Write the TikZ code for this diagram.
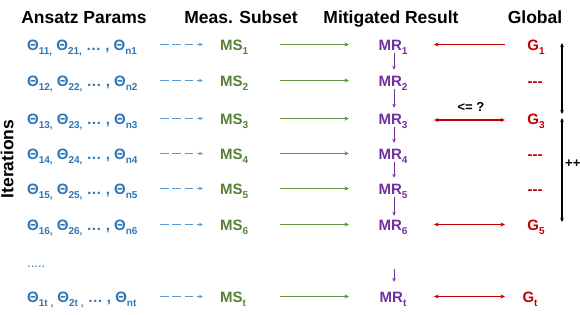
\documentclass[tikz,border=0pt]{standalone}
\usepackage{fontspec}
\setmainfont{Liberation Sans}
\usetikzlibrary{arrows.meta}
\definecolor{cblue}{HTML}{2E75B6}
\definecolor{cbluearr}{HTML}{5B9BD5}
\definecolor{cgreen}{HTML}{548235}
\definecolor{cgreenarr}{HTML}{5E9140}
\definecolor{cpurple}{HTML}{7030A0}
\definecolor{cred}{HTML}{C00000}
\newcommand\sbs[1]{\raisebox{-0.28em}{\fontsize{10}{12}\selectfont #1}}
\begin{document}
\begin{tikzpicture}[x=1pt,y=-1pt,
  hdr/.style={font=\fontsize{17.5}{20}\selectfont\bfseries, anchor=base, inner sep=0},
  rowtxt/.style={font=\fontsize{15}{18}\selectfont\bfseries, inner sep=0, text height=11pt, text depth=0pt},
  theta/.style={rowtxt, text=cblue, anchor=west},
  msn/.style={rowtxt, text=cgreen, anchor=west},
  mrn/.style={rowtxt, text=cpurple, anchor=center},
  gln/.style={rowtxt, text=cred, anchor=center},
  bluearr/.style={draw=cbluearr, line width=1.1pt, dash pattern=on 8.5pt off 3.8pt, -{Stealth[length=4pt,width=3.5pt]}},
  greenarr/.style={draw=cgreenarr, line width=1.1pt, -{Stealth[length=4.5pt,width=4pt]}},
  redarr/.style={draw=cred, line width=1.1pt, {Stealth[length=4.5pt,width=4pt]}-{Stealth[length=4.5pt,width=4pt]}},
  redarrl/.style={draw=cred, line width=1.1pt, {Stealth[length=4.5pt,width=4pt]}-},
  purarr/.style={draw=cpurple, line width=0.9pt, -{Stealth[length=4pt,width=3.5pt]}},
  blkarr/.style={draw=black, line width=1.1pt, {Stealth[length=4pt,width=3.5pt]}-{Stealth[length=4pt,width=3.5pt]}}
]
\useasboundingbox (0,0) rectangle (580,314);
% headers
\node[hdr] (h1) at (84,23) {Ansatz Params};
\node[hdr] (h2) at (241,23) {Meas. Subset};
\node[hdr] (h3) at (391,23) {Mitigated Result};
\node[hdr] (h4) at (535,23) {Global};
\node[font=\fontsize{17.5}{20}\selectfont\bfseries, rotate=90, inner sep=0] (it) at (7,159) {Iterations};
% column coordinates
\coordinate (bA) at (160,0); \coordinate (bB) at (203,0);
\coordinate (gA) at (280,0); \coordinate (gB) at (349,0);
\coordinate (rA) at (434,0); \coordinate (rB) at (505,0);
% rows
\foreach \i/\y in {1/44.5,2/80.5,3/118.5,4/153.5,5/188.5,6/224.5}{
  \node[theta] (th\i) at (27,\y) {Θ\sbs{1\i,} Θ\sbs{2\i,} … , Θ\sbs{n\i}};
  \node[msn] (ms\i) at (220,\y) {MS\sbs{\i}};
  \node[mrn] (mr\i) at (393,\y) {MR\sbs{\i}};
  \draw[bluearr] (bA |- th\i) -- (bB |- ms\i);
  \draw[greenarr] (gA |- ms\i) -- (gB |- mr\i);
}
\node[theta] (tht) at (27,296.5) {Θ\sbs{1t ,} Θ\sbs{2t ,} … , Θ\sbs{nt}};
\node[msn] (mst) at (220,296.5) {MS\sbs{t}};
\node[mrn] (mrt) at (393,296.5) {MR\sbs{t}};
\draw[bluearr] (bA |- tht) -- (bB |- mst);
\draw[greenarr] (gA |- mst) -- (gB |- mrt);
\node[theta, font=\fontsize{13}{15}\selectfont] (dots) at (27,262) {.....};
% global column
\node[gln] (g1) at (536,44.5) {G\sbs{1}};
\node[gln] (g2) at (535,80.5) {-{}-{}-};
\node[gln] (g3) at (536,118.5) {G\sbs{3}};
\node[gln] (g4) at (535,153.5) {-{}-{}-};
\node[gln] (g5d) at (535,188.5) {-{}-{}-};
\node[gln] (g5) at (536,224.5) {G\sbs{5}};
\node[gln] (gt) at (530,296.5) {G\sbs{t}};
% red arrows
\draw[redarrl] (rA |- mr1) -- (rB |- g1);
\draw[redarr] ([yshift=-1.5pt]rA |- mr3) -- ([yshift=-1.5pt]rB |- g3);
\draw[redarr] (rA |- mr6) -- (rB |- g5);
\draw[redarr] (rA |- mrt) -- (rB |- gt);
\node[font=\fontsize{13}{15}\selectfont\bfseries, inner sep=0, anchor=base] (cmp) at (471,111) {<= ?};
% purple vertical arrows
\draw[purarr, shorten <=3pt, shorten >=5pt] ([xshift=1pt]mr1.south) -- ([xshift=1pt]mr2.north);
\draw[purarr, shorten <=3pt, shorten >=5pt] ([xshift=1pt]mr2.south) -- ([xshift=1pt]mr3.north);
\draw[purarr, shorten <=3pt, shorten >=5pt] ([xshift=1pt]mr3.south) -- ([xshift=1pt]mr4.north);
\draw[purarr, shorten <=3pt, shorten >=5pt] ([xshift=1pt]mr4.south) -- ([xshift=1pt]mr5.north);
\draw[purarr, shorten <=3pt, shorten >=3pt] ([xshift=1pt]mr5.south) -- ([xshift=1pt]mr6.north);
\coordinate (mrtop) at (394,269);
\draw[purarr, shorten >=9pt] (mrtop) -- ([xshift=1pt]mrt.north);
% black iteration bracket
\coordinate (k1) at (562,43); \coordinate (k2) at (562,114);
\coordinate (k3) at (562,118); \coordinate (k4) at (562,222);
\draw[blkarr] (k1) -- (k2);
\draw[blkarr] (k3) -- (k4);
\node[font=\fontsize{13}{15}\selectfont\bfseries, inner sep=0, anchor=west] (pp) at (565,164) {++};
\end{tikzpicture}
\end{document}
